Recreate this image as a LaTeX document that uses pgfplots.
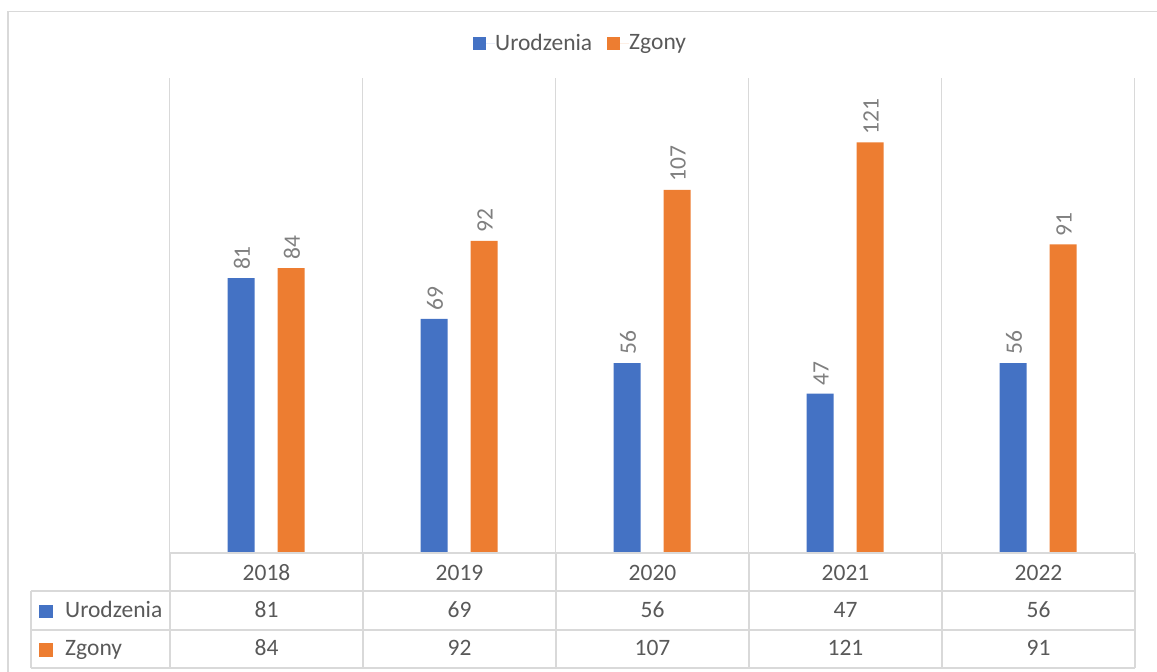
\documentclass[border=0pt]{standalone}
\usepackage{pgfplots}
\pgfplotsset{compat=1.18}
\usepackage{fontspec}
\setmainfont{Carlito}
\definecolor{cblue}{HTML}{4472C4}
\definecolor{corange}{HTML}{ED7D31}
\definecolor{cgrid}{HTML}{D9D9D9}
\definecolor{ctext}{HTML}{595959}
\definecolor{clabel}{HTML}{7F7F7F}
\begin{document}
\fontsize{23.5}{27}\selectfont
\begin{tikzpicture}[x=1pt,y=1pt]
\useasboundingbox (0,0) rectangle (1157,-672);
\clip (0,0) rectangle (1157,-672);
\draw[cgrid, line width=1.3pt] (8,-690) -- (8,-11.5) -- (1170,-11.5);
\begin{axis}[
  at={(169.5pt,-553pt)}, anchor=south west,
  scale only axis, width=965pt, height=475pt,
  xmin=-0.5, xmax=4.5, ymin=0, ymax=140,
  ybar=23pt, bar width=27pt,
  axis line style={draw=none},
  tick style={draw=none},
  xtick={-0.5,0.5,...,4.5}, xticklabels={},
  ytick=\empty,
  xmajorgrids, grid style={cgrid, line width=1.3pt},
  clip=false,
  /pgf/number format/assume math mode=true,
  nodes near coords,
  every node near coord/.append style={rotate=90, anchor=west, text=clabel, inner sep=0pt, xshift=8pt, yshift=-1pt},
  legend columns=2,
  legend style={at={(0.425,1.0716)}, anchor=center, draw=none, fill=none, text=ctext,
    /tikz/every even column/.append style={column sep=15pt},
    /tikz/every odd column/.append style={column sep=0pt},
    nodes={inner sep=0pt, anchor=west}},
  legend image code/.code={\fill[#1] (0pt,-6.5pt) rectangle (13pt,6.5pt); \path (0pt,0pt) -- (22pt,0pt);},
]
\addplot[fill=cblue, draw=none] coordinates {(0,81) (1,69) (2,56) (3,47) (4,56)};
\addlegendentry{Urodzenia}
\addplot[fill=corange, draw=none] coordinates {(0,84) (1,92) (2,107) (3,121) (4,91)};
\addlegendentry{Zgony}
\end{axis}
\begin{scope}[cgrid, line width=1.3pt]
\draw (170,-553) -- (1135,-553);
\draw (31,-591) -- (1135,-591);
\draw (31,-630) -- (1135,-630);
\draw (31,-668) -- (1135,-668);
\draw (31,-591) -- (31,-668);
\foreach \xx in {170,363,556,749,942,1135} \draw (\xx,-553) -- (\xx,-668);
\end{scope}
\foreach \yr [count=\i from 0] in {2018,2019,2020,2021,2022}
  \node[text=ctext, anchor=base, inner sep=0pt] at (266.5+193*\i,-580) {\yr};
\foreach \v [count=\i from 0] in {81,69,56,47,56}
  \node[text=ctext, anchor=base, inner sep=0pt] at (266.5+193*\i,-617) {\v};
\foreach \v [count=\i from 0] in {84,92,107,121,91}
  \node[text=ctext, anchor=base, inner sep=0pt] at (266.5+193*\i,-655) {\v};
\fill[cblue] (39,-604.5) rectangle (52.5,-618);
\fill[corange] (39,-643) rectangle (52.5,-656.5);
\node[text=ctext, anchor=base west, inner sep=0pt] at (65,-617) {Urodzenia};
\node[text=ctext, anchor=base west, inner sep=0pt] at (65,-655) {Zgony};
\end{tikzpicture}
\end{document}
